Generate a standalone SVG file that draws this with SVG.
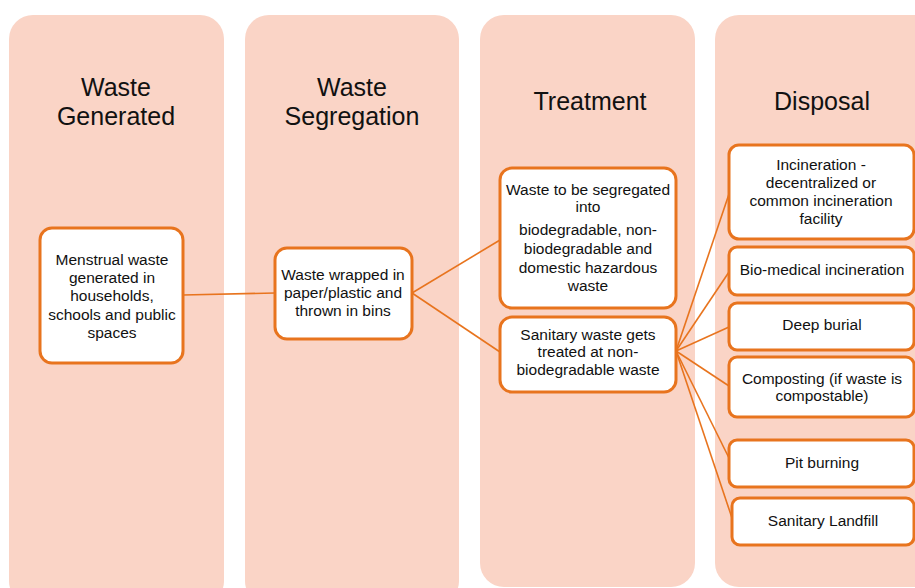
<svg xmlns="http://www.w3.org/2000/svg" width="915" height="588" viewBox="0 0 915 588">
<style>
.col{fill:#FAD4C6;}
.box{fill:#FFFFFF;stroke:#E8741E;stroke-width:3;}
.title{font-family:"Liberation Sans","Open Sans",sans-serif;font-size:25px;fill:#111;text-anchor:middle;}
.t{font-family:"Liberation Sans","Open Sans",sans-serif;font-size:15.5px;fill:#111;text-anchor:middle;}
.ln{stroke:#E8741E;stroke-width:1.6;fill:none;}
</style>
<rect width="915" height="588" fill="#FFFFFF"/>
<g id="columns">
<rect class="col" x="9" y="15" width="215" height="590" rx="24"/>
<rect class="col" x="245" y="15" width="214" height="590" rx="24"/>
<rect class="col" x="480" y="15" width="215" height="572" rx="24"/>
<rect class="col" x="715" y="15" width="230" height="572" rx="24"/>
<text class="title" x="116" y="96">Waste</text>
<text class="title" x="116" y="125">Generated</text>
<text class="title" x="352" y="96">Waste</text>
<text class="title" x="352" y="125">Segregation</text>
<text class="title" x="590" y="110">Treatment</text>
<text class="title" x="822" y="110">Disposal</text>
</g>
<g id="connectors">
<line class="ln" x1="183" y1="295" x2="275" y2="293"/>
<line class="ln" x1="412" y1="293" x2="500" y2="240"/>
<line class="ln" x1="412" y1="293" x2="500" y2="352"/>
<line class="ln" x1="676" y1="351" x2="729" y2="194"/>
<line class="ln" x1="676" y1="351" x2="729" y2="272"/>
<line class="ln" x1="676" y1="351" x2="729" y2="327"/>
<line class="ln" x1="676" y1="351" x2="729" y2="386"/>
<line class="ln" x1="676" y1="351" x2="729" y2="458"/>
<line class="ln" x1="676" y1="351" x2="732" y2="518"/>
</g>
<g id="n-menstrual">
<rect class="box" x="40" y="228" width="143" height="135" rx="12"/>
<text class="t" x="112" y="265">Menstrual waste</text>
<text class="t" x="112" y="283">generated in</text>
<text class="t" x="112" y="301">households,</text>
<text class="t" x="112" y="320">schools and public</text>
<text class="t" x="112" y="338">spaces</text>
</g>
<g id="n-wrapped">
<rect class="box" x="275" y="248" width="137" height="91" rx="12"/>
<text class="t" x="343" y="280">Waste wrapped in</text>
<text class="t" x="343" y="298">paper/plastic and</text>
<text class="t" x="343" y="316">thrown in bins</text>
</g>
<g id="n-segregated">
<rect class="box" x="500" y="168" width="176" height="140" rx="12"/>
<text class="t" x="588" y="195">Waste to be segregated</text>
<text class="t" x="588" y="212">into</text>
<text class="t" x="588" y="235">biodegradable, non-</text>
<text class="t" x="588" y="254">biodegradable and</text>
<text class="t" x="588" y="273">domestic hazardous</text>
<text class="t" x="588" y="291">waste</text>
</g>
<g id="n-sanitary">
<rect class="box" x="500" y="317" width="176" height="75" rx="12"/>
<text class="t" x="588" y="340">Sanitary waste gets</text>
<text class="t" x="588" y="357">treated at non-</text>
<text class="t" x="588" y="375">biodegradable waste</text>
</g>
<g id="n-incineration">
<rect class="box" x="729" y="145" width="185" height="94" rx="10"/>
<text class="t" x="821" y="170">Incineration -</text>
<text class="t" x="821" y="188">decentralized or</text>
<text class="t" x="821" y="206">common incineration</text>
<text class="t" x="821" y="224">facility</text>
</g>
<g id="n-biomedical">
<rect class="box" x="729" y="247" width="185" height="48" rx="8"/>
<text class="t" x="822" y="275">Bio-medical incineration</text>
</g>
<g id="n-deepburial">
<rect class="box" x="729" y="303" width="185" height="47" rx="8"/>
<text class="t" x="822" y="330">Deep burial</text>
</g>
<g id="n-composting">
<rect class="box" x="729" y="357" width="185" height="60" rx="8"/>
<text class="t" x="822" y="384">Composting (if waste is</text>
<text class="t" x="822" y="401">compostable)</text>
</g>
<g id="n-pit">
<rect class="box" x="729" y="440" width="185" height="47" rx="8"/>
<text class="t" x="822" y="468">Pit burning</text>
</g>
<g id="n-landfill">
<rect class="box" x="732" y="498" width="182" height="47" rx="8"/>
<text class="t" x="823" y="526">Sanitary Landfill</text>
</g>
</svg>
